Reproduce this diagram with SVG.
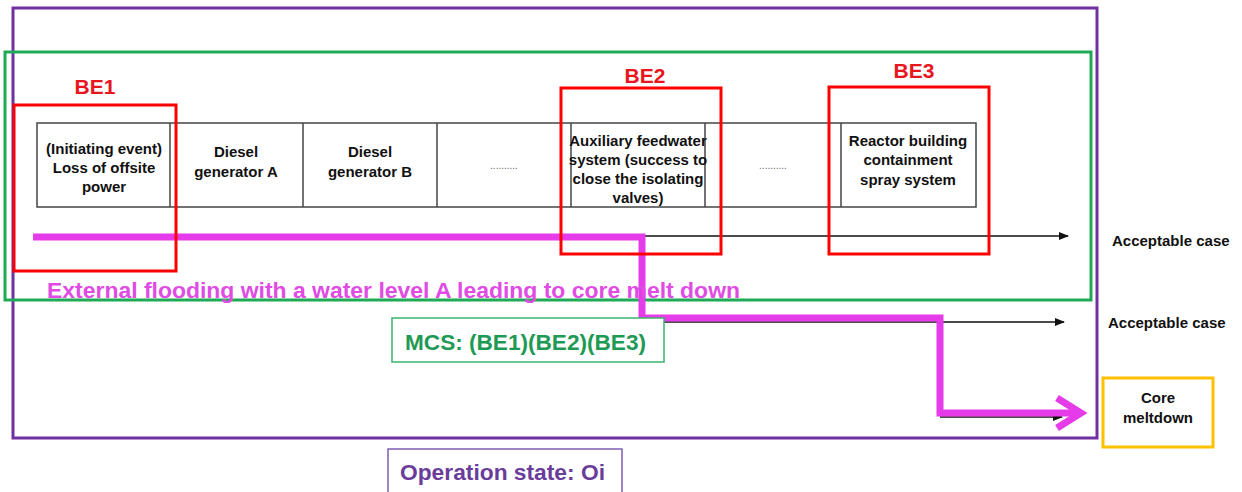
<svg xmlns="http://www.w3.org/2000/svg" width="1242" height="492" viewBox="0 0 1242 492">
<defs>
<marker id="ah" markerWidth="10" markerHeight="8" refX="9" refY="4" orient="auto" markerUnits="userSpaceOnUse">
<path d="M0,0 L10,4 L0,8 Z" fill="#111"/>
</marker>
<style>
text{font-family:"Liberation Sans",Arial,sans-serif;font-weight:bold}
.cell{fill:none;stroke:#444;stroke-width:1.5}
.ct{font-size:15px;fill:#111;text-anchor:middle}
.be{fill:none;stroke:#f00;stroke-width:3}
.bel{font-size:21px;fill:#e8161e;text-anchor:middle}
.arr{stroke:#111;stroke-width:1.5;fill:none;marker-end:url(#ah)}
.acc{font-size:15px;fill:#111}
.dots{font-size:10px;fill:#666;text-anchor:middle;font-weight:normal}
</style>
</defs>
<rect width="1242" height="492" fill="#fff"/>
<g id="frame-operation">
<rect x="13" y="8" width="1084" height="430" fill="none" stroke="#7030a0" stroke-width="3"/>
</g>
<g id="frame-mcs">
<rect x="5" y="52" width="1086" height="248" fill="none" stroke="#1faa55" stroke-width="3"/>
</g>
<g id="table">
<rect class="cell" x="37" y="123" width="939" height="84"/>
<line class="cell" x1="170" y1="123" x2="170" y2="207"/>
<line class="cell" x1="303" y1="123" x2="303" y2="207"/>
<line class="cell" x1="437" y1="123" x2="437" y2="207"/>
<line class="cell" x1="571" y1="123" x2="571" y2="207"/>
<line class="cell" x1="705" y1="123" x2="705" y2="207"/>
<line class="cell" x1="841" y1="123" x2="841" y2="207"/>
</g>
<g id="n-initiating"><text class="ct"><tspan x="104" y="154">(Initiating event)</tspan><tspan x="104" y="173">Loss of offsite</tspan><tspan x="104" y="192">power</tspan></text></g>
<g id="n-dga"><text class="ct"><tspan x="236" y="157">Diesel</tspan><tspan x="236" y="177">generator A</tspan></text></g>
<g id="n-dgb"><text class="ct"><tspan x="370" y="157">Diesel</tspan><tspan x="370" y="177">generator B</tspan></text></g>
<g id="n-dots1"><text class="dots" x="504" y="169">..........</text></g>
<g id="n-aux"><text class="ct"><tspan x="638" y="146">Auxiliary feedwater</tspan><tspan x="638" y="165">system (success to</tspan><tspan x="638" y="184">close the isolating</tspan><tspan x="638" y="203">valves)</tspan></text></g>
<g id="n-dots2"><text class="dots" x="773" y="169">..........</text></g>
<g id="n-reactor"><text class="ct"><tspan x="908" y="146">Reactor building</tspan><tspan x="908" y="165">containment</tspan><tspan x="908" y="185">spray system</tspan></text></g>
<g id="connectors">
<line class="arr" x1="35" y1="236" x2="1068" y2="236"/>
<line class="arr" x1="642" y1="322" x2="1064" y2="322"/>
<line class="arr" x1="940" y1="417" x2="1062" y2="417"/>
<path d="M33,237 H642 V318 H940 V413 H1080" fill="none" stroke="#e53be8" stroke-width="7"/>
<path d="M1057,398 L1081,413 L1057,428" fill="none" stroke="#e53be8" stroke-width="7" stroke-linejoin="miter"/>
</g>
<g id="be1"><rect class="be" x="14" y="105" width="162" height="166"/><text class="bel" x="95" y="94">BE1</text></g>
<g id="be2"><rect class="be" x="561" y="88" width="160" height="166"/><text class="bel" x="645" y="83">BE2</text></g>
<g id="be3"><rect class="be" x="829" y="87" width="160" height="167"/><text class="bel" x="914" y="78">BE3</text></g>
<g id="title"><text x="47" y="298" font-size="22" fill="#e04be4" textLength="693" lengthAdjust="spacingAndGlyphs">External flooding with a water level A leading to core melt down</text></g>
<g id="acc1"><text class="acc" x="1112" y="246">Acceptable case</text></g>
<g id="acc2"><text class="acc" x="1108" y="328">Acceptable case</text></g>
<g id="core">
<rect x="1103" y="378" width="110" height="69" fill="#fff" stroke="#ffc000" stroke-width="3"/>
<text class="ct"><tspan x="1158" y="403">Core</tspan><tspan x="1158" y="423">meltdown</tspan></text>
</g>
<g id="mcs">
<rect x="392" y="318" width="272" height="44" fill="#fff" stroke="#3cb46e" stroke-width="1.5"/>
<text x="405" y="350" font-size="22" fill="#1e9a55" textLength="241" lengthAdjust="spacingAndGlyphs">MCS: (BE1)(BE2)(BE3)</text>
</g>
<g id="opstate">
<rect x="388" y="449" width="234" height="50" fill="#fff" stroke="#7e5fb0" stroke-width="1.5"/>
<text x="400" y="480" font-size="22" fill="#6a3d9a" textLength="205" lengthAdjust="spacingAndGlyphs">Operation state: Oi</text>
</g>
</svg>
